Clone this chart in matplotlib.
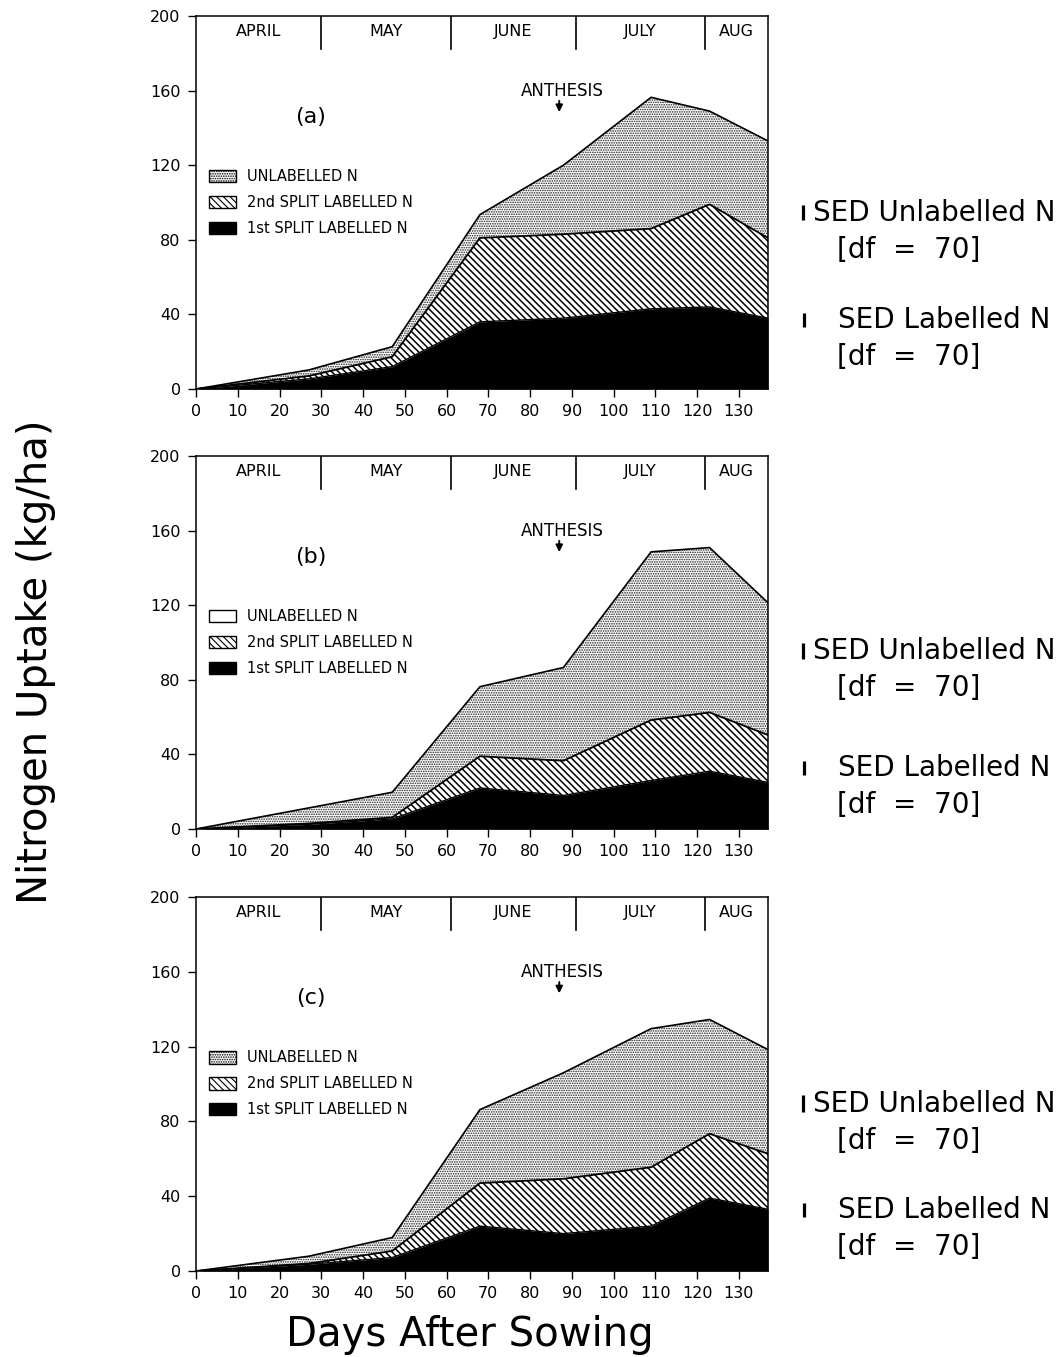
import matplotlib
matplotlib.use("Agg")
import matplotlib.pyplot as plt
from matplotlib.patches import Patch
import numpy as np

plt.rcParams['font.family'] = ['DejaVu Sans']
plt.rcParams['hatch.linewidth'] = 0.8

# ---------------- data ----------------
days = [0, 27, 47, 68, 88, 109, 123, 137]

# component uptake (kg/ha) for each panel
first_a = [0, 5.4, 12.0, 36.0, 38.0, 43.0, 44.0, 38.0]
second_a = [0, 1.6, 5.3, 45.0, 45.0, 43.0, 55.0, 43.0]
unlab_a = [0, 3.2, 5.4, 12.5, 37.0, 70.4, 50.0, 52.0]

first_b = [0, 2.5, 5.4, 22.0, 18.0, 26.0, 31.0, 25.0]
second_b = [0, 0.5, 0.8, 17.0, 18.6, 32.4, 31.5, 25.4]
unlab_b = [0, 8.3, 13.5, 37.3, 50.0, 90.2, 88.4, 70.9]

first_c = [0, 3.6, 7.2, 24.0, 20.0, 24.0, 39.0, 33.0]
second_c = [0, 0.4, 3.5, 23.0, 29.3, 31.5, 34.4, 29.7]
unlab_c = [0, 3.9, 7.2, 39.3, 56.7, 74.1, 61.1, 55.7]

panel_labels = ["(a)", "(b)", "(c)"]
series_labels = ["UNLABELLED N", "2nd SPLIT LABELLED N", "1st SPLIT LABELLED N"]

months = ["APRIL", "MAY", "JUNE", "JULY", "AUG"]
month_bounds = [0, 30, 61, 91, 122, 137]
anthesis_day = 87

x_ticks = list(range(0, 131, 10))
y_ticks = [0, 40, 80, 120, 160, 200]

sed_unlab = [8.0, 9.0, 9.0]
sed_lab = [7.0, 7.0, 7.5]

# ---------------- figure ----------------
W, H = 1063, 1357
fig = plt.figure(figsize=(W / 100, H / 100), dpi=100)

panels = [
    (first_a, second_a, unlab_a, 16, 389),
    (first_b, second_b, unlab_b, 456, 829),
    (first_c, second_c, unlab_c, 897, 1271),
]
left_px, right_px = 196, 768

DOT = '.......'
DIAG = '\\' * 5

for i, (f1, f2, fu, top_px, bot_px) in enumerate(panels):
    ax = fig.add_axes([left_px / W, (H - bot_px) / H,
                       (right_px - left_px) / W, (bot_px - top_px) / H])
    d = np.array(days, float)
    s1 = np.array(f1, float)
    s2 = s1 + np.array(f2, float)
    s3 = s2 + np.array(fu, float)

    with plt.rc_context({'hatch.linewidth': 0.8}):
        ax.fill_between(d, s2, s3, facecolor='white', edgecolor='#222222',
                        hatch=DOT, linewidth=0, zorder=1)
    with plt.rc_context({'hatch.linewidth': 1.1}):
        ax.fill_between(d, s1, s2, facecolor='white', edgecolor='black',
                        hatch=DIAG, linewidth=0, zorder=2)
    ax.fill_between(d, 0, s1, facecolor='black', edgecolor='black',
                    linewidth=0, zorder=3)
    ax.plot(d, s3, color='black', lw=1.2, zorder=4)
    ax.plot(d, s2, color='black', lw=1.3, zorder=4)
    ax.plot(d, s1, color='black', lw=1.0, zorder=4)

    ax.set_xlim(0, 137)
    ax.set_ylim(0, 200)
    ax.set_xticks(x_ticks)
    ax.set_yticks(y_ticks)
    ax.tick_params(axis='both', direction='out', length=6, width=1.0,
                   labelsize=11.5, pad=5)
    for sp in ax.spines.values():
        sp.set_linewidth(1.1)

    # month band
    for b in month_bounds[1:-1]:
        ax.plot([b, b], [182.5, 200], color='black', lw=1.2, zorder=5)
    for m, a, b in zip(months, month_bounds[:-1], month_bounds[1:]):
        ax.text((a + b) / 2, 191.5, m, ha='center', va='center', fontsize=11.5)

    # anthesis
    ax.text(anthesis_day + 0.8, 160, "ANTHESIS", ha='center', va='center',
            fontsize=12)
    ax.annotate("", xy=(anthesis_day, 147), xytext=(anthesis_day, 156),
                arrowprops=dict(arrowstyle='-|>', color='black', lw=1.4,
                                mutation_scale=10))

    # panel label
    ax.text(27.5, 146, panel_labels[i], ha='center', va='center', fontsize=16)

    # legend
    with plt.rc_context({'hatch.linewidth': 0.8}):
        h_unl = Patch(facecolor='white', edgecolor='black',
                      hatch=(DOT if i != 1 else None), label=series_labels[0])
    with plt.rc_context({'hatch.linewidth': 1.1}):
        h_2nd = Patch(facecolor='white', edgecolor='black', hatch=DIAG,
                      label=series_labels[1])
    h_1st = Patch(facecolor='black', edgecolor='black', label=series_labels[2])
    ax.legend(handles=[h_unl, h_2nd, h_1st], loc='upper left',
              bbox_to_anchor=(0.022, 0.59),
              frameon=False, fontsize=10.5, handlelength=1.9, handleheight=0.95,
              handletextpad=0.75, labelspacing=0.75, borderpad=0,
              borderaxespad=0)

    # SED bars and texts on the right
    yu = [94.4, 95.4, 89.5][i]
    yl = [37.0, 32.7, 32.7][i]
    ax.plot([145.3, 145.3], [yu - sed_unlab[i] / 2, yu + sed_unlab[i] / 2],
            color='black', lw=2.3, clip_on=False, solid_capstyle='butt')
    ax.plot([145.6, 145.6], [yl - sed_lab[i] / 2, yl + sed_lab[i] / 2],
            color='black', lw=2.3, clip_on=False, solid_capstyle='butt')
    ax.text(147.8, yu, "SED Unlabelled N", ha='left', va='center',
            fontsize=20, clip_on=False)
    ax.text(153.5, yu - 20, "[df  =  70]", ha='left', va='center',
            fontsize=20, clip_on=False)
    ax.text(153.8, yl, "SED Labelled N", ha='left', va='center',
            fontsize=20, clip_on=False)
    ax.text(153.5, yl - 20, "[df  =  70]", ha='left', va='center',
            fontsize=20, clip_on=False)

fig.text(36 / W, 1 - 662 / H, "Nitrogen Uptake (kg/ha)", rotation=90,
         ha='center', va='center', fontsize=29)
fig.text(470 / W, 1 - 1335 / H, "Days After Sowing", ha='center',
         va='center', fontsize=29)

fig.savefig("out.png", dpi=100)
